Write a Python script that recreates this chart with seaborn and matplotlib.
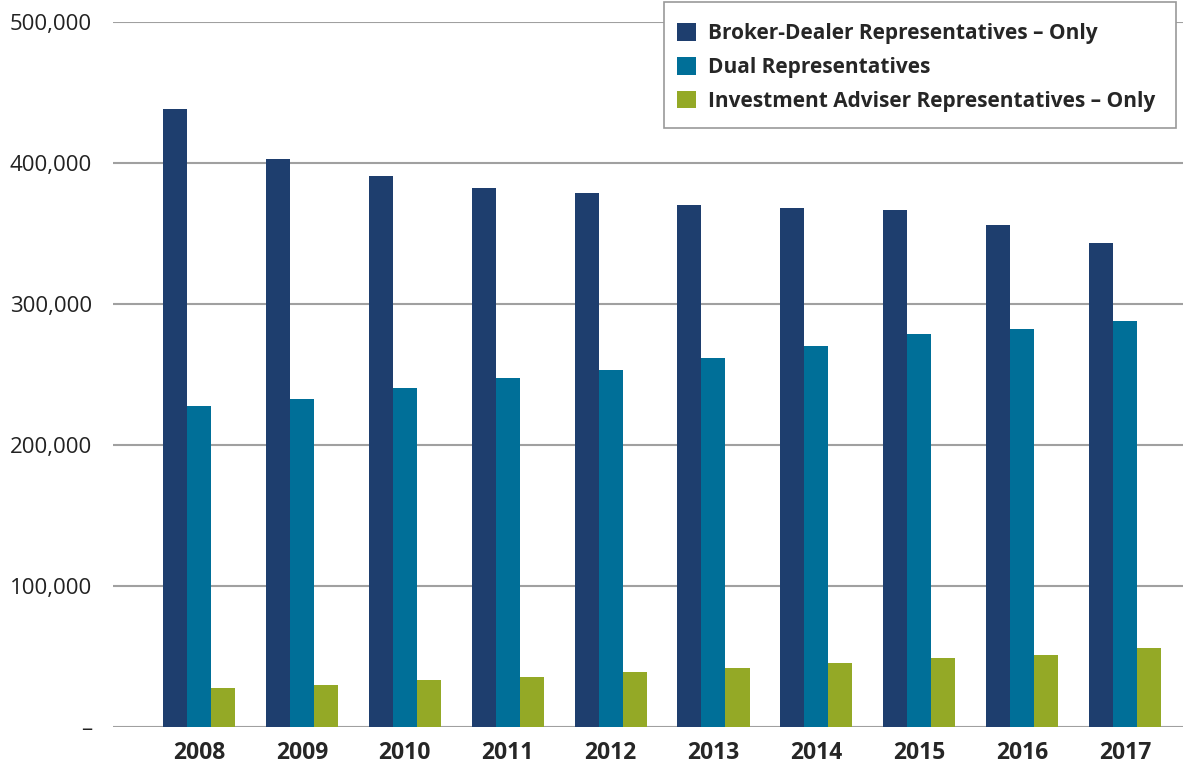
import matplotlib
matplotlib.use("Agg")
import matplotlib.pyplot as plt
import matplotlib.patches as mpatches
import matplotlib.ticker as mticker
import pandas as pd
import seaborn as sns

# values
years = ["2008", "2009", "2010", "2011", "2012", "2013", "2014", "2015", "2016", "2017"]
bd_only = [438000, 403000, 391000, 382000, 379000, 370000, 368000, 367000, 356000, 343000]
dual = [228000, 232500, 240500, 247500, 253000, 261500, 270000, 278500, 282000, 288000]
ia_only = [27700, 29800, 33300, 35500, 39000, 41800, 45400, 48900, 51100, 56000]

series = ["Broker-Dealer Representatives \u2013 Only",
          "Dual Representatives",
          "Investment Adviser Representatives \u2013 Only"]
colors = ["#1E3E6E", "#006F98", "#94A926"]

df = pd.DataFrame({
    "year": years * 3,
    "count": bd_only + dual + ia_only,
    "group": [series[0]] * 10 + [series[1]] * 10 + [series[2]] * 10,
})

sns.set_style("white")
plt.rcParams["font.family"] = ["Open Sans", "DejaVu Sans"]

W, H = 1183, 765
fig = plt.figure(figsize=(W / 100, H / 100), dpi=100)
ax = fig.add_axes([113 / W, 38 / H, 1 - 113 / W, 705 / H])

sns.barplot(data=df, x="year", y="count", hue="group", palette=colors,
            width=0.7, saturation=1, linewidth=0, ax=ax, legend=False, zorder=3)

ax.set_xlim(-0.836, 9.563)
ax.set_ylim(0, 500000)
ax.set_yticks([0, 100000, 200000, 300000, 400000, 500000])
ax.yaxis.set_major_formatter(mticker.FuncFormatter(
    lambda v, p: "\u2013" if v == 0 else f"{int(v):,}"))
ax.yaxis.grid(True, color="#A0A0A0", linewidth=1.5, zorder=0)
ax.set_xlabel("")
ax.set_ylabel("")
for s in ax.spines.values():
    s.set_visible(False)
ax.tick_params(axis="y", length=0, pad=15, labelsize=16, labelcolor="#222222")
ax.tick_params(axis="x", length=0, pad=10, labelsize=16.5)
for lbl in ax.get_xticklabels():
    lbl.set_fontweight("bold")

# legend box drawn separately so its padding can match the original
box = mpatches.Rectangle((664 / W, 1 - 128 / H), (1176 - 664) / W, 126 / H,
                         transform=fig.transFigure, facecolor="white",
                         edgecolor="#999999", linewidth=1.2, zorder=5)
fig.patches.append(box)

handles = [mpatches.Patch(facecolor=c, edgecolor="none", label=s) for c, s in zip(colors, series)]
leg = fig.legend(handles=handles, loc="upper left", bbox_to_anchor=(677 / W, 1 - 23 / H),
                 frameon=False, handlelength=0.92, handleheight=0.92,
                 handletextpad=0.58, labelspacing=0.62, borderpad=0,
                 prop={"weight": "bold", "size": 15}, borderaxespad=0)
leg.set_zorder(6)

fig.savefig("out.png", dpi=100)
